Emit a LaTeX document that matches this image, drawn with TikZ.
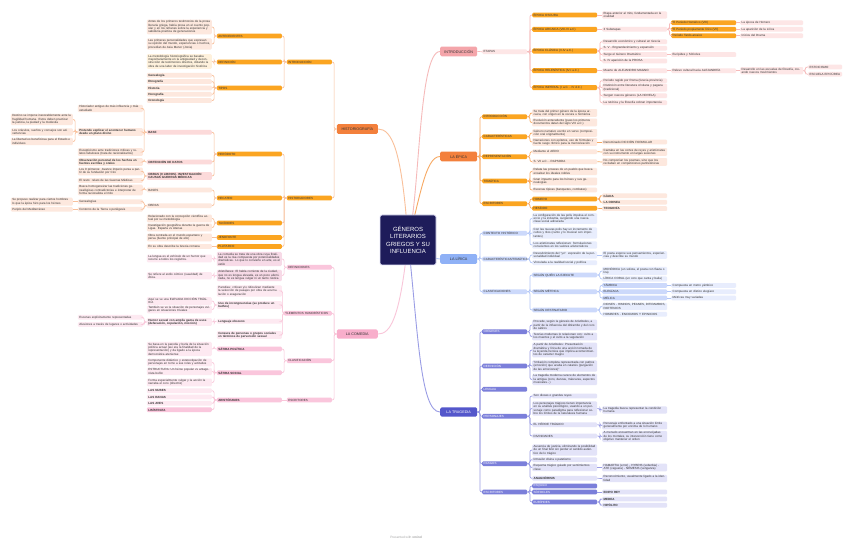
\documentclass[tikz,border=0pt]{standalone}
\usepackage{fontspec}
\setmainfont{Liberation Sans}
\usepackage{tikz}
\usetikzlibrary{positioning,calc}
\usepackage{xcolor}
\definecolor{colnavy}{HTML}{1E1C5A}
\definecolor{colink}{HTML}{333333}
\definecolor{colhist}{HTML}{F3803C}
\definecolor{colorng}{HTML}{FBA521}
\definecolor{colpeach}{HTML}{FDE8DE}
\definecolor{colcream}{HTML}{FEF1DC}
\definecolor{colrose}{HTML}{FCDADA}
\definecolor{collnor}{HTML}{F9C09A}
\definecolor{collnep}{HTML}{F7A862}
\definecolor{colintro}{HTML}{F4A5AA}
\definecolor{colsalm}{HTML}{FDE6E6}
\definecolor{collnsa}{HTML}{F6BABA}
\definecolor{colcom}{HTML}{F8AECB}
\definecolor{colpk1}{HTML}{FAC6DC}
\definecolor{colpk2}{HTML}{F7DAE7}
\definecolor{colpk3}{HTML}{FDE9F1}
\definecolor{collnpk}{HTML}{F9C6D9}
\definecolor{collir}{HTML}{8FB1F6}
\definecolor{colbl1}{HTML}{CCD9FB}
\definecolor{colbl2}{HTML}{E8EDFD}
\definecolor{collnbl}{HTML}{B2C6F7}
\definecolor{coltra}{HTML}{5457CB}
\definecolor{colin1}{HTML}{7B7FDA}
\definecolor{colin2}{HTML}{E3E3F8}
\definecolor{collnin}{HTML}{9A9DE5}
\newcommand{\mmtxt}{\fontsize{3}{3.35}\selectfont}

\begin{document}
\begin{tikzpicture}[x=1pt,y=-1pt,
  bx/.style={rounded corners=1.2pt,inner xsep=1.5pt,inner ysep=0.9pt,
    minimum height=4.8pt,font=\mmtxt,align=left,text=colink},
  rw/.style={bx,anchor=west,text width=62pt,fill=#1},
  rn/.style={bx,anchor=west,text width=42pt,fill=#1},
  lw/.style={bx,anchor=east,text width=62pt,fill=#1},
  ln/.style={bx,anchor=east,text width=42pt,fill=#1},
  bf/.style={font=\mmtxt\bfseries},
  topic/.style={rounded corners=1.5pt,minimum height=7.5pt,inner xsep=1.5pt,
    font=\fontsize{3.7}{4}\selectfont,fill=#1,text=colink},
  lk/.style={draw=#1,line width=0.7pt,rounded corners=2pt},
]
  \useasboundingbox (0,0) rectangle (848,545);
  \fill[white] (0,0) rectangle (848,545);

  % ramas principales
  \node[topic=colhist,anchor=east,minimum width=41pt] (hist) at (378,129) {HISTORIOGRAFÍA};
  \node[topic=colcom,anchor=east,minimum width=41pt] (com) at (378,334) {LA COMEDIA};
  \node[topic=colintro,anchor=west,minimum width=37pt] (intro) at (440,51.5) {INTRODUCCIÓN};
  \node[topic=colhist,anchor=west,minimum width=37pt] (epi) at (440,156.5) {LA ÉPICA};
  \node[topic=collir,anchor=west,minimum width=37pt] (lir) at (440,259) {LA LÍRICA};
  \node[topic=coltra,anchor=west,minimum width=37pt,text=white] (tra) at (440,412) {LA TRAGEDIA};

  \coordinate (ctr) at (408,240);
  \draw[lk=collnor,line width=0.9pt] (ctr) .. controls (402,150) and (392,129) .. (hist.east);
  \draw[lk=collnpk,line width=0.9pt] (ctr) .. controls (400,320) and (390,334) .. (com.east);
  \draw[lk=collnsa,line width=0.9pt] (ctr) .. controls (420,200) and (418,51.5) .. (intro.west);
  \draw[lk=collnep,line width=0.9pt] (ctr) .. controls (420,200) and (425,156.5) .. (epi.west);
  \draw[lk=collnbl,line width=0.9pt] (ctr) .. controls (425,245) and (428,259) .. (lir.west);
  \draw[lk=collnin,line width=0.9pt] (ctr) .. controls (418,330) and (420,412) .. (tra.west);

  \node[fill=colnavy,draw=colin2,line width=0.8pt,rounded corners=2pt,minimum width=56pt,
    minimum height=50pt,align=center,text=white,font=\fontsize{6}{7.6}\selectfont] (root) at (ctr)
    {GÉNEROS\\LITERARIOS\\GRIEGOS Y SU\\INFLUENCIA};

  % ---------------- HISTORIOGRAFIA ----------------
  \node[ln=colorng] (hIntro) at (332,62) {INTRODUCCIÓN};
  \node[ln=colorng] (hHist) at (332,198) {HISTORIADORES};
  \foreach \c in {hIntro,hHist} \draw[lk=collnor] (hist.west) -- ++(-2.5,0) |- (\c.east);

  \node[lw=colorng] (hAnte) at (282,36) {ANTECEDENTES};
  \node[lw=colorng] (hDef) at (282,62) {DEFINICIÓN};
  \node[lw=colorng] (hTipos) at (282,88) {TIPOS};
  \foreach \c in {hAnte,hDef,hTipos} \draw[lk=collnor] (hIntro.west) -- ++(-2.5,0) |- (\c.east);

  \node[lw=colpeach] (a1) at (212,27) {Antes de los primeros testimonios de la prosa literaria griega, había prosa en el cuento popular y en los refranes sobre la experiencia y sabiduría práctica de generaciones};
  \node[lw=colpeach] (a2) at (212,44) {Las primeras personalidades que expresan su opinión del mundo, experiencias o hechos, procedían de Asia Menor (Jonia)};
  \foreach \c in {a1,a2} \draw[lk=collnor] (hAnte.west) -- ++(-2.5,0) |- (\c.east);
  \node[lw=colcream] (d1) at (212,61.5) {La metodología historiográfica se basaba mayoritariamente en la antigüedad y deconstrucción de testimonios directos, dotando la obra de una labor de investigación histórica};
  \draw[lk=collnor] (hDef.west) -- ++(-2.5,0) |- (d1.east);
  \node[lw=colpeach,bf] (t1) at (212,75.3) {Genealogía};
  \node[lw=colpeach,bf] (t2) at (212,81.6) {Etnografía};
  \node[lw=colpeach,bf] (t3) at (212,88) {Historia};
  \node[lw=colpeach,bf] (t4) at (212,94.3) {Horografía};
  \node[lw=colpeach,bf] (t5) at (212,100.6) {Cronología};
  \foreach \c in {t1,t2,t3,t4,t5} \draw[lk=collnor] (hTipos.west) -- ++(-2.5,0) |- (\c.east);

  \node[lw=colorng] (hHer) at (282,154) {HERÓDOTO};
  \node[lw=colorng] (hHec) at (282,198) {HECATEO};
  \node[lw=colorng] (hTuc) at (282,223) {TUCÍDIDES};
  \node[lw=colorng] (hJen) at (282,237.5) {JENOFONTE};
  \node[lw=colorng] (hPlu) at (282,246.5) {PLUTARCO};
  \foreach \c in {hHer,hHec,hTuc,hJen,hPlu} \draw[lk=collnor] (hHist.west) -- ++(-2.5,0) |- (\c.east);

  \node[lw=colrose,bf] (her1) at (212,132.3) {BASE};
  \node[lw=colrose,bf] (her2) at (212,162) {OBTENCIÓN DE DATOS};
  \node[lw=colrose,bf] (her3) at (212,176) {OBRAS (9 LIBROS). INVESTIGACIÓN CAUSAS GUERRAS MÉDICAS};
  \foreach \c in {her1,her2,her3} \draw[lk=collnor] (hHer.west) -- ++(-2.5,0) |- (\c.east);
  \node[lw=colpeach] (b1) at (143,108.5) {Historiador antiguo de más influencia y más estudiado};
  \node[lw=colpeach,bf] (b2) at (143,132) {Pretende explicar el acontecer humano desde un plano divino};
  \node[lw=colpeach] (b3) at (143,152) {Escepticismo ante tradiciones míticas y relatos fabulosos (trata de racionalizarlos)};
  \foreach \c in {b1,b2,b3} \draw[lk=collnor] (her1.west) -- ++(-2.5,0) |- (\c.east);
  \node[bx,anchor=east,text width=59pt,fill=colpeach] (p1) at (73,119.5) {Destino se impone inexorablemente ante la fragilidad humana. Estos deben practicar la justicia, la piedad y la modestia};
  \node[bx,anchor=east,text width=59pt,fill=colpeach] (p2) at (73,132) {Los oráculos, sueños y consejos son advertencias};
  \node[bx,anchor=east,text width=59pt,fill=colpeach] (p3) at (73,141.5) {La libertad es beneficiosa para el Estado e individuos};
  \foreach \c in {p1,p2,p3} \draw[lk=collnor] (b2.west) -- ++(-2.5,0) |- (\c.east);
  \node[lw=colpeach,bf] (o1) at (143,162) {Observación personal de los hechos en fuentes escritas y orales};
  \draw[lk=collnor] (her2.west) -- ++(-2.5,0) |- (o1.east);
  \node[lw=colpeach] (w1) at (143,171.5) {Los 9 primeros: Avance imperio persa a partir de su fundación por Ciro};
  \node[lw=colpeach] (w2) at (143,180.5) {El resto: relato de las Guerras Médicas};
  \foreach \c in {w1,w2} \draw[lk=collnor] (her3.west) -- ++(-2.5,0) |- (\c.east);

  \node[lw=colpeach] (hec1) at (212,190) {BASES};
  \node[lw=colpeach] (hec2) at (212,205.7) {OBRAS};
  \foreach \c in {hec1,hec2} \draw[lk=collnor] (hHec.west) -- ++(-2.5,0) |- (\c.east);
  \node[lw=colpeach] (hb1) at (143,190) {Busca homogeneizar las tradiciones genealógicas contradictorias e interpretar de forma racionalista el mito};
  \draw[lk=collnor] (hec1.west) -- ++(-2.5,0) |- (hb1.east);
  \node[lw=colpeach] (ho1) at (143,201.7) {Genealogías};
  \node[lw=colpeach] (ho2) at (143,209.3) {Contorno de la Tierra o periégesis};
  \foreach \c in {ho1,ho2} \draw[lk=collnor] (hec2.west) -- ++(-2.5,0) |- (\c.east);
  \node[bx,anchor=east,text width=59pt,fill=colpeach] (g1) at (73,201.7) {Se propuso realizar para ciertos hombres lo que la épica hizo para los héroes};
  \node[bx,anchor=east,text width=59pt,fill=colpeach] (g2) at (73,209.3) {Periplo del Mediterráneo};
  \draw[lk=collnor] (ho1.west) -- (g1.east);
  \draw[lk=collnor] (ho2.west) -- (g2.east);

  \node[lw=colpeach] (tuc1) at (212,218.5) {Relacionado con la concepción científica actual por su metodología};
  \node[lw=colpeach] (tuc2) at (212,227.5) {Investigación geográfica durante la guerra de Ligas. Esparta vs Atenas};
  \foreach \c in {tuc1,tuc2} \draw[lk=collnor] (hTuc.west) -- ++(-2.5,0) |- (\c.east);
  \node[lw=colpeach] (jen1) at (212,237.5) {Obra centrada en el mundo espartano y persa (fuente principal de ello)};
  \draw[lk=collnor] (hJen.west) -- (jen1.east);
  \node[lw=colpeach] (plu1) at (212,246.5) {En su obra describe la Grecia romana};
  \draw[lk=collnor] (hPlu.west) -- (plu1.east);

  % ---------------- LA COMEDIA ----------------
  \node[ln=colpk1] (cDef) at (332,267.3) {DEFINICIONES};
  \node[ln=colpk1,text width=45pt] (cEle) at (332,313.3) {ELEMENTOS HUMORÍSTICOS};
  \node[ln=colpk1] (cCla) at (332,360.7) {CLASIFICACIÓN};
  \node[ln=colpk1] (cEsc) at (332,400) {ESCRITORES};
  \foreach \c in {cDef,cEle,cCla,cEsc} \draw[lk=collnpk] (com.west) -- ++(-2.5,0) |- (\c.east);

  \node[lw=colpk2] (cd1) at (282,259) {La comedia se trata de una obra cuya finalidad es la risa compuesta por potencialidades dramáticas. Lo que lo convierte en arte, es el estilo};
  \node[lw=colpk2] (cd2) at (282,275.5) {Aristófanes: El habla corriente de la ciudad, que no es lengua elevada, es un poco afeminada, no es lengua vulgar ni un tanto rústica};
  \foreach \c in {cd1,cd2} \draw[lk=collnpk] (cDef.west) -- ++(-2.5,0) |- (\c.east);
  \node[lw=colpk3] (cd1a) at (212,258.5) {La lengua es el vehículo de un humor que recurre a todos los registros.};
  \node[lw=colpk3] (cd2a) at (212,275.7) {Se refiere al estilo cómico (suavidad) de Ática.};
  \draw[lk=collnpk] (cd1.west) -- ++(-2.5,0) |- (cd1a.east);
  \draw[lk=collnpk] (cd2.west) -- ++(-2.5,0) |- (cd2a.east);

  \node[lw=colpk3] (ce1) at (282,291) {Parodias: critican y/o ridiculizan mediante la selección de pasajes por obra de acumulación o exageración};
  \node[lw=colpk3,bf] (ce2) at (282,305) {Uso de incongruencias (se produce un bathos)};
  \node[lw=colpk3,bf] (ce3) at (282,321.3) {Lenguaje obsceno};
  \node[lw=colpk3,bf] (ce4) at (282,335) {Censura de personas o grupos sociales en términos de perversión sexual};
  \foreach \c in {ce1,ce2,ce3,ce4} \draw[lk=collnpk] (cEle.west) -- ++(-1,0) |- (\c.east);
  \node[lw=colpk3] (ce2a) at (212,301) {Aquí se ve una ELEVADA DICCIÓN TRÁGICA};
  \node[lw=colpk3] (ce2b) at (212,309.5) {También se ve la situación de personajes vulgares en situaciones triviales};
  \foreach \c in {ce2a,ce2b} \draw[lk=collnpk] (ce2.west) -- ++(-2.5,0) |- (\c.east);
  \node[lw=colpk3,bf] (ce3a) at (212,322) {Humor sexual con amplia gama de usos (defecación, copulación, micción)};
  \draw[lk=collnpk] (ce3.west) -- ++(-2.5,0) |- (ce3a.east);
  \node[lw=colpk3] (ce3a1) at (143,317.3) {Escenas explícitamente representadas};
  \node[lw=colpk3] (ce3a2) at (143,324.5) {Alusiones a través de lugares o actividades};
  \foreach \c in {ce3a1,ce3a2} \draw[lk=collnpk] (ce3a.west) -- ++(-2.5,0) |- (\c.east);

  \node[lw=colpk1,bf] (cc1) at (282,349) {SÁTIRA POLÍTICA};
  \node[lw=colpk1,bf] (cc2) at (282,372.7) {SÁTIRA SOCIAL};
  \foreach \c in {cc1,cc2} \draw[lk=collnpk] (cCla.west) -- ++(-2.5,0) |- (\c.east);
  \node[lw=colpk3] (cc1a) at (212,349) {Se basa en la parodia y burla de la situación política actual (así era la finalidad de la representación) y da ligado a la época democrática ateniense};
  \draw[lk=collnpk] (cc1.west) -- ++(-2.5,0) |- (cc1a.east);
  \node[lw=colpk3] (cc2a) at (212,362.5) {Componente didáctico y estereotipación de personajes en torno a sus roles y actitudes};
  \node[lw=colpk3] (cc2b) at (212,371.5) {ESTRUCTURA: Un héroe popular vs antagonista bufón};
  \node[lw=colpk3] (cc2c) at (212,382.5) {Forma especialmente vulgar y la acción la narraba el coro (directriz)};
  \foreach \c in {cc2a,cc2b,cc2c} \draw[lk=collnpk] (cc2.west) -- ++(-2.5,0) |- (\c.east);

  \node[lw=colpk1,bf] (cs1) at (282,400) {ARISTÓFANES};
  \draw[lk=collnpk] (cEsc.west) -- (cs1.east);
  \node[lw=colpk3,bf] (cs1a) at (212,390.7) {LAS NUBES};
  \node[lw=colpk3,bf] (cs1b) at (212,397) {LAS RANAS};
  \node[lw=colpk3,bf] (cs1c) at (212,403.3) {LAS AVES};
  \node[lw=colpk1,bf] (cs1d) at (212,409.7) {LISÍSTRATA};
  \foreach \c in {cs1a,cs1b,cs1c,cs1d} \draw[lk=collnpk] (cs1.west) -- ++(-2.5,0) |- (\c.east);

  % ---------------- INTRODUCCION ----------------
  \node[rn=colsalm] (eta) at (482,51.7) {ETAPAS};
  \draw[lk=collnsa] (intro.east) -- (eta.west);
  \node[rw=colorng] (e1) at (532,15) {ÉPOCA OSCURA};
  \node[rw=colorng] (e2) at (532,29.3) {ÉPOCA ARCAICA (VIII-VI a.C)};
  \node[rw=colorng] (e3) at (532,51) {ÉPOCA CLÁSICA (V-IV a.C.)};
  \node[rw=colorng] (e4) at (532,70.7) {ÉPOCA HELENÍSTICA (IV-I a.C.)};
  \node[rw=colorng] (e5) at (532,87.7) {ÉPOCA IMPERIAL (I a.C. - IV d.C.)};
  \foreach \c in {e1,e2,e3,e4,e5} \draw[lk=collnsa] (eta.east) -- ++(2.5,0) |- (\c.west);

  \node[rw=colsalm] (e1a) at (602,15) {Etapa anterior al mito, fundamentada en la oralidad};
  \draw[lk=collnsa] (e1.east) -- (e1a.west);
  \node[rw=colsalm] (e2a) at (602,29.3) {3 Subetapas};
  \draw[lk=collnsa] (e2.east) -- (e2a.west);
  \node[rw=colorng] (e2a1) at (671,22.7) {El Periodo Homérico (VIII)};
  \node[rw=colorng] (e2a2) at (671,29.3) {El Periodo propiamente lírico (VII)};
  \node[rw=colorng] (e2a3) at (671,35.7) {Periodo Tardo-arcaico};
  \foreach \c in {e2a1,e2a2,e2a3} \draw[lk=collnsa] (e2a.east) -- ++(2,0) |- (\c.west);
  \node[bx,anchor=west,text width=60pt,fill=colsalm] (e2b1) at (740,22.7) {La época de Homero};
  \node[bx,anchor=west,text width=60pt,fill=colsalm] (e2b2) at (740,29.3) {La aparición de la Lírica};
  \node[bx,anchor=west,text width=60pt,fill=colsalm] (e2b3) at (740,35.7) {Inicios del Drama};
  \draw[lk=collnsa] (e2a1.east) -- (e2b1.west);
  \draw[lk=collnsa] (e2a2.east) -- (e2b2.west);
  \draw[lk=collnsa] (e2a3.east) -- (e2b3.west);

  \node[rw=colsalm] (e3a) at (602,41.7) {Desarrollo económico y cultural en Grecia};
  \node[rw=colsalm] (e3b) at (602,48.2) {S. V - Engrandecimiento y expansión};
  \node[rw=colsalm] (e3c) at (602,54.6) {Surge el Género Dramático};
  \node[rw=colsalm] (e3d) at (602,61) {S. IV aparición de la PROSA};
  \foreach \c in {e3a,e3b,e3c,e3d} \draw[lk=collnsa] (e3.east) -- ++(2.5,0) |- (\c.west);
  \node[rw=colsalm] (e3c1) at (671,54.6) {Eurípides y Sófocles};
  \draw[lk=collnsa] (e3c.east) -- (e3c1.west);

  \node[rw=colsalm] (e4a) at (602,70.7) {Muerte de ALEJANDRO MAGNO};
  \draw[lk=collnsa] (e4.east) -- (e4a.west);
  \node[rw=colsalm] (e4a1) at (671,70.7) {Relevo cultural hacia ALEJANDRÍA};
  \draw[lk=collnsa] (e4a.east) -- (e4a1.west);
  \node[bx,anchor=west,text width=60pt,fill=colsalm] (e4b1) at (740,70.7) {Desarrollo en las escuelas de filosofía, creando nuevos movimientos};
  \draw[lk=collnsa] (e4a1.east) -- (e4b1.west);
  \node[bx,anchor=west,text width=31pt,fill=colsalm] (sto) at (808,67) {ESTOICISMO};
  \node[bx,anchor=west,text width=31pt,fill=colsalm] (epc) at (808,74.2) {ESCUELA EPICÚREA};
  \foreach \c in {sto,epc} \draw[lk=collnsa] (e4b1.east) -- ++(2,0) |- (\c.west);

  \node[rw=colsalm] (e5a) at (602,80.7) {Periodo regido por Roma (Grecia provincia)};
  \node[rw=colsalm] (e5b) at (602,87.7) {Distinción entre literatura cristiana y pagana (tradicional)};
  \node[rw=colsalm] (e5c) at (602,95.7) {Surgen nuevos géneros (LA NOVELA)};
  \node[rw=colsalm] (e5d) at (602,102.7) {La retórica y la filosofía cobran importancia};
  \foreach \c in {e5a,e5b,e5c,e5d} \draw[lk=collnsa] (e5.east) -- ++(2.5,0) |- (\c.west);

  % ---------------- LA EPICA ----------------
  \node[rn=colorng] (pI) at (482,116.7) {INTRODUCCIÓN};
  \node[rn=colorng] (pC) at (482,136.7) {CARACTERÍSTICAS};
  \node[rn=colorng] (pR) at (482,156.7) {REPRESENTACIÓN};
  \node[rn=colorng] (pT) at (482,181) {TEMÁTICA};
  \node[rn=colorng] (pE) at (482,203.7) {ESCRITORES};
  \foreach \c in {pI,pC,pR,pT,pE} \draw[lk=collnep] (epi.east) -- ++(2.5,0) |- (\c.west);

  \node[rw=colpeach] (pI1) at (532,113) {Se trata del primer género de la época arcaica, con origen en la oscura u homérica};
  \node[rw=colpeach] (pI2) at (532,122.5) {Evolución antecedente (pues los primeros documentos datan del siglo VIII a.C.)};
  \foreach \c in {pI1,pI2} \draw[lk=collnep] (pI.east) -- ++(2.5,0) |- (\c.west);
  \node[rw=colpeach] (pC1) at (532,133) {Género narrativo escrito en verso (composición oral originalmente)};
  \node[rw=colpeach] (pC2) at (532,142) {Narraciones con epítetos, uso de fórmulas y fuerte rasgo rítmico para la memorización};
  \foreach \c in {pC1,pC2} \draw[lk=collnep] (pC.east) -- ++(2.5,0) |- (\c.west);
  \node[rw=colpeach] (pC2a) at (602,142) {Denominado DICCIÓN FORMULAR};
  \draw[lk=collnep] (pC2.east) -- (pC2a.west);
  \node[rw=colpeach] (pR1) at (532,151.7) {Mediante el AEDO};
  \node[rw=colpeach] (pR2) at (532,161.7) {S. VII a.C. - RAPSODA};
  \foreach \c in {pR1,pR2} \draw[lk=collnep] (pR.east) -- ++(2.5,0) |- (\c.west);
  \node[rw=colpeach] (pR1a) at (602,152) {Cantaba en las cortes de reyes y aristócratas con su instrumento en largas sesiones};
  \node[rw=colpeach] (pR2a) at (602,162) {No componían los poemas, sino que los recitaban en competiciones panhelénicas};
  \draw[lk=collnep] (pR1.east) -- (pR1a.west);
  \draw[lk=collnep] (pR2.east) -- (pR2a.west);
  \node[rw=colpeach] (pT1) at (532,171.5) {Relata las proezas de un pueblo que busca ensalzar los ideales nobles};
  \node[rw=colpeach] (pT2) at (532,181.5) {Gran impacto para los héroes y sus genealogías};
  \node[rw=colpeach] (pT3) at (532,190) {Escenas típicas (banquetes, combates)};
  \foreach \c in {pT1,pT2,pT3} \draw[lk=collnep] (pT.east) -- ++(2.5,0) |- (\c.west);
  \node[rw=colorng] (pE1) at (532,199) {HOMERO};
  \node[rw=colorng] (pE2) at (532,208.3) {HESÍODO};
  \foreach \c in {pE1,pE2} \draw[lk=collnep] (pE.east) -- ++(2.5,0) |- (\c.west);
  \node[rw=colpeach,bf] (pE1a) at (602,195.7) {ILÍADA};
  \node[rw=colpeach,bf] (pE1b) at (602,202.3) {LA ODISEA};
  \foreach \c in {pE1a,pE1b} \draw[lk=collnep] (pE1.east) -- ++(2.5,0) |- (\c.west);
  \node[rw=colpeach,bf] (pE2a) at (602,208.6) {TEOGONÍA};
  \draw[lk=collnep] (pE2.east) -- (pE2a.west);

  % ---------------- LA LIRICA ----------------
  \node[rn=colbl1] (lC) at (482,233.3) {CONTEXTO HISTÓRICO};
  \node[rn=colbl1] (lT) at (482,259) {CARACTERÍSTICAS/TEMÁTICA};
  \node[rn=colbl1] (lK) at (482,291.7) {CLASIFICACIONES};
  \foreach \c in {lC,lT,lK} \draw[lk=collnbl] (lir.east) -- ++(2.5,0) |- (\c.west);

  \node[rw=colbl2] (lC1) at (532,218.5) {La configuración de las polis impulsa el comercio y la industria, surgiendo una nueva clase social adinerada};
  \node[rw=colbl2] (lC2) at (532,233) {Con las nuevas polis hay un incremento de cultos y ritos (canto y lo musical son importantes)};
  \node[rw=colbl2] (lC3) at (532,245) {Los aristócratas reflexionan: formulaciones conscientes en los valores aristocráticos};
  \foreach \c in {lC1,lC2,lC3} \draw[lk=collnbl] (lC.east) -- ++(2.5,0) |- (\c.west);
  \node[rw=colbl2] (lT1) at (532,255) {Descubrimiento del “yo”: expresión de la personalidad individual};
  \node[rw=colbl2] (lT2) at (532,262.7) {Vinculada a la realidad social y política};
  \foreach \c in {lT1,lT2} \draw[lk=collnbl] (lT.east) -- ++(2.5,0) |- (\c.west);
  \node[rw=colbl2] (lT1a) at (602,255) {El poeta expone sus pensamientos, experiencias y describe su mundo};
  \draw[lk=collnbl] (lT1.east) -- (lT1a.west);

  \node[rw=colbl1] (lK1) at (532,275) {SEGÚN QUIÉN LA EJECUTE};
  \node[rw=colbl1] (lK2) at (532,291.7) {SEGÚN MÉTRICA};
  \node[rw=colbl1] (lK3) at (532,310) {SEGÚN DESTINATARIO};
  \foreach \c in {lK1,lK2,lK3} \draw[lk=collnbl] (lK.east) -- ++(2.5,0) |- (\c.west);
  \node[rw=colbl2] (lK1a) at (602,271) {MONÓDICA (un solista, el poeta con flauta o lira)};
  \node[rw=colbl2] (lK1b) at (602,279) {LÍRICA CORAL (un coro que canta y baila)};
  \foreach \c in {lK1a,lK1b} \draw[lk=collnbl] (lK1.east) -- ++(2.5,0) |- (\c.west);
  \node[rw=colbl1] (lK2a) at (602,285.4) {YÁMBICA};
  \node[rw=colbl1] (lK2b) at (602,291.7) {ELEGÍACA};
  \node[rw=colbl1] (lK2c) at (602,298) {MÉLICA};
  \foreach \c in {lK2a,lK2b,lK2c} \draw[lk=collnbl] (lK2.east) -- ++(2.5,0) |- (\c.west);
  \node[rw=colbl2] (lM1) at (671,285.4) {Compuesta en metro yámbico};
  \node[rw=colbl2] (lM2) at (671,291.7) {Compuesta en dístico elegíaco};
  \node[rw=colbl2] (lM3) at (671,298) {Métricas muy variadas};
  \draw[lk=collnbl] (lK2a.east) -- (lM1.west);
  \draw[lk=collnbl] (lK2b.east) -- (lM2.west);
  \draw[lk=collnbl] (lK2c.east) -- (lM3.west);
  \node[rw=colbl2] (lK3a) at (602,306.5) {DIOSES - HIMNOS, PEANES, DITIRAMBOS, PARTENIOS};
  \node[rw=colbl2] (lK3b) at (602,314.3) {HOMBRES - ENCOMIOS Y EPINICIOS};
  \foreach \c in {lK3a,lK3b} \draw[lk=collnbl] (lK3.east) -- ++(2.5,0) |- (\c.west);

  % ---------------- LA TRAGEDIA ----------------
  \node[rn=colin1,text=white] (tO) at (482,331.7) {ORÍGENES};
  \node[rn=colin1,text=white] (tD) at (482,366) {DEFINICIÓN};
  \node[rn=colin1,text=white] (tL) at (482,389.3) {LENGUA};
  \node[rn=colin1,text=white] (tP) at (482,416.3) {PERSONAJES};
  \node[rn=colin1,text=white] (tR) at (482,463.7) {RASGOS};
  \node[rn=colin1,text=white] (tE) at (482,492) {ESCRITORES};
  \foreach \c in {tO,tD,tL,tP,tR,tE} \draw[lk=collnin] (tra.east) -- ++(2.5,0) |- (\c.west);

  \node[rw=colin2] (tO1) at (532,325) {Procede, según la génesis de Aristóteles, a partir de la influencia del ditirambo y del coro de sátiros};
  \node[rw=colin2] (tO2) at (532,336.5) {Teorías modernas lo relacionan con: culto a los muertos y el culto a la vegetación};
  \foreach \c in {tO1,tO2} \draw[lk=collnin] (tO.east) -- ++(2.5,0) |- (\c.west);
  \node[rw=colin2] (tD1) at (532,350) {A partir de Aristóteles: Presentación dramática y lírica de una acción tomada de la leyenda heroica que implica acontecimientos de carácter magno};
  \node[rw=colin2] (tD2) at (532,366) {“Imitación completa representada con pathos (emoción) que acaba en catarsis (purgación de las emociones)”};
  \node[rw=colin2] (tD3) at (532,379.5) {La tragedia moderna carece de elementos de la antigua (coro, danzas, máscaras, aspectos musicales...)};
  \foreach \c in {tD1,tD2,tD3} \draw[lk=collnin] (tD.east) -- ++(2.5,0) |- (\c.west);

  \node[rw=colin2] (tP1) at (532,396) {Son dioses o grandes reyes};
  \node[rw=colin2] (tP2) at (532,408.5) {Los personajes trágicos tienen importancia en su análisis psicológico, usando a un personaje como paradigma para reflexionar sobre los límites de la naturaleza humana};
  \node[rw=colin2] (tP3) at (532,424.7) {EL HÉROE TRÁGICO};
  \node[rw=colin2] (tP4) at (532,436) {DIVINIDADES};
  \foreach \c in {tP1,tP2,tP3,tP4} \draw[lk=collnin] (tP.east) -- ++(2.5,0) |- (\c.west);
  \node[rw=colin2] (tP2a) at (602,410) {La tragedia busca representar la condición humana};
  \node[rw=colin2] (tP3a) at (602,425.5) {Personaje enfrentado a una situación límite generalmente por encima de lo humano};
  \node[rw=colin2] (tP4a) at (602,436.5) {A menudo encuentran en las encrucijadas de los mortales, su intervención tiene como objetivo mantener el orden};
  \draw[lk=collnin] (tP2.east) -- ++(2.5,0) |- (tP2a.west);
  \draw[lk=collnin] (tP3.east) -- ++(2.5,0) |- (tP3a.west);
  \draw[lk=collnin] (tP4.east) -- ++(2.5,0) |- (tP4a.west);

  \node[rw=colin2] (tR1) at (532,450) {Ausencia de justicia, eliminando la posibilidad de un final feliz sin perder el sentido auténtico de lo trágico};
  \node[rw=colin2] (tR2) at (532,459.7) {Intrusión divina o patetismo};
  \node[rw=colin2] (tR3) at (532,467.5) {Esquema trágico guiado por sentimientos clave};
  \node[rw=colin2,bf] (tR4) at (532,478.3) {ANAGNÓRISIS};
  \foreach \c in {tR1,tR2,tR3,tR4} \draw[lk=collnin] (tR.east) -- ++(2.5,0) |- (\c.west);
  \node[rw=colin2] (tR3a) at (602,467.5) {HAMARTIA (error) - HYBRIS (soberbia) - ATE (ceguera) - NÉMESIS (venganza)};
  \node[rw=colin2] (tR4a) at (602,478.5) {Reconocimiento, usualmente ligado a la identidad};
  \draw[lk=collnin] (tR3.east) -- (tR3a.west);
  \draw[lk=collnin] (tR4.east) -- (tR4a.west);

  \node[rw=colin1,text=white] (tE1) at (532,486) {ESQUILO};
  \node[rw=colin1,text=white] (tE2) at (532,492) {SÓFOCLES};
  \node[rw=colin1,text=white] (tE3) at (532,502) {EURÍPIDES};
  \foreach \c in {tE1,tE2,tE3} \draw[lk=collnin] (tE.east) -- ++(2.5,0) |- (\c.west);
  \node[rw=colin2,bf] (tE2a) at (602,492) {EDIPO REY};
  \draw[lk=collnin] (tE2.east) -- (tE2a.west);
  \node[rw=colin2,bf] (tE3a) at (602,499) {MEDEA};
  \node[rw=colin2,bf] (tE3b) at (602,505.2) {HIPÓLITO};
  \foreach \c in {tE3a,tE3b} \draw[lk=collnin] (tE3.east) -- ++(2.5,0) |- (\c.west);

  \node[font=\fontsize{3.2}{4}\selectfont,text=gray!70] (foot) at (406,537) {Presented with \textbf{xmind}};
\end{tikzpicture}
\end{document}
